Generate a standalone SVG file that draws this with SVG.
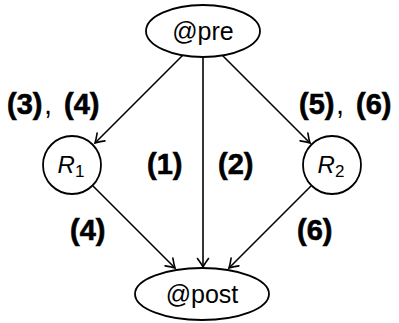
<svg xmlns="http://www.w3.org/2000/svg" width="399" height="323" viewBox="0 0 399 323">
<style>
.node{fill:#fff;stroke:#000;stroke-width:1.8}
.lbl{font-family:"Liberation Sans",Arial,sans-serif;font-size:25px;fill:#000}
.rl{font-family:"Liberation Sans",Arial,sans-serif;font-size:24px;font-style:italic;fill:#000}
.sub{font-style:normal;font-size:17px}
.num{font-family:"Liberation Sans",Arial,sans-serif;font-size:29px;font-weight:bold;fill:#000;stroke:#000;stroke-width:0.6}
.cm{font-weight:normal;stroke-width:0}
.edge{fill:none;stroke:#000;stroke-width:1.6}
</style>
<defs>
<marker id="arr" markerUnits="userSpaceOnUse" markerWidth="14" markerHeight="14" viewBox="-10 -7 12 14" refX="0" refY="0" orient="auto">
<path d="M -8.5 -5.5 Q -3 -1.5 0 0 Q -3 1.5 -8.5 5.5" fill="none" stroke="#000" stroke-width="1.6" stroke-linecap="round"/>
</marker>
</defs>
<g id="connectors">
<path class="edge" d="M 183 55 L 95 143" marker-end="url(#arr)"/>
<path class="edge" d="M 203 57 L 203 267" marker-end="url(#arr)"/>
<path class="edge" d="M 222 55 L 310 143" marker-end="url(#arr)"/>
<path class="edge" d="M 93 186 L 175 268" marker-end="url(#arr)"/>
<path class="edge" d="M 311 186 L 229 268" marker-end="url(#arr)"/>
</g>
<g id="pre">
<ellipse class="node" cx="203" cy="31" rx="57" ry="26"/>
<text class="lbl" x="203" y="40" text-anchor="middle">@pre</text>
</g>
<g id="R1">
<circle class="node" cx="72" cy="165" r="29"/>
<text class="rl" x="71" y="173" text-anchor="middle">R<tspan class="sub" dy="4">1</tspan></text>
</g>
<g id="R2">
<circle class="node" cx="332" cy="165" r="29"/>
<text class="rl" x="331" y="173" text-anchor="middle">R<tspan class="sub" dy="4">2</tspan></text>
</g>
<g id="post">
<ellipse class="node" cx="202" cy="294" rx="67" ry="26"/>
<text class="lbl" x="202" y="303" text-anchor="middle">@post</text>
</g>
<g id="labels">
<text class="num" x="7" y="114">(3)<tspan class="cm" x="44">,</tspan><tspan x="64">(4)</tspan></text>
<text class="num" x="299" y="114">(5)<tspan class="cm" x="336">,</tspan><tspan x="356">(6)</tspan></text>
<text class="num" x="147" y="174">(1)</text>
<text class="num" x="218" y="174">(2)</text>
<text class="num" x="70" y="240">(4)</text>
<text class="num" x="297" y="240">(6)</text>
</g>
</svg>
